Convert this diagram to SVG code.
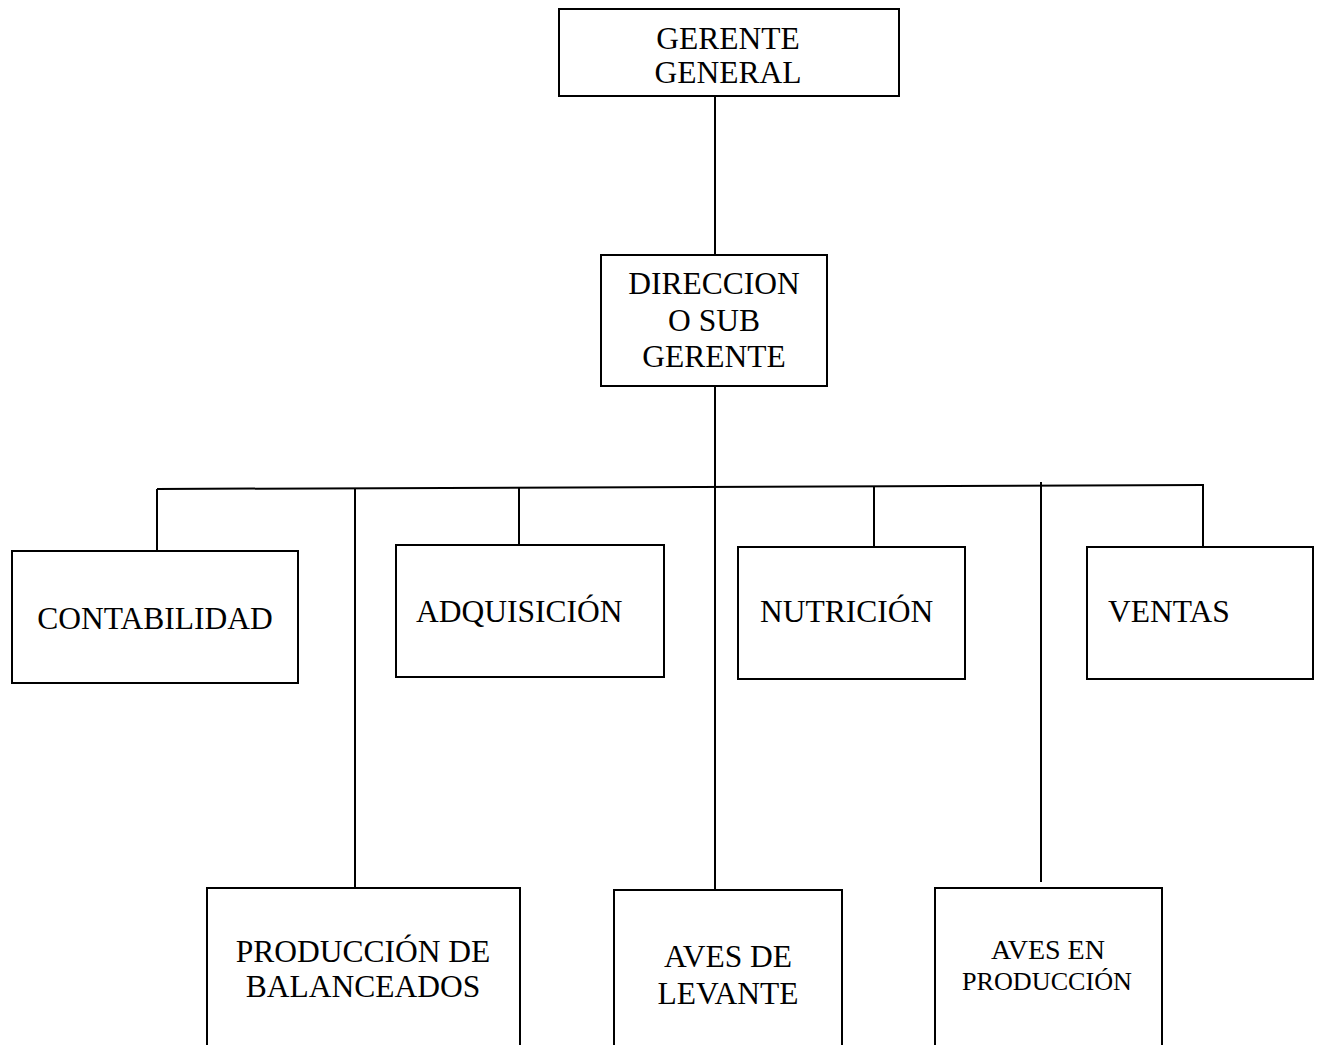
<svg xmlns="http://www.w3.org/2000/svg" width="1319" height="1045" viewBox="0 0 1319 1045">
<style>
.box{fill:#fff;stroke:#000;stroke-width:2}
.ln{stroke:#000;stroke-width:2;fill:none}
text{font-family:"Liberation Serif","Times New Roman",serif;font-size:31.5px;fill:#000}
.c{text-anchor:middle}
</style>
<rect width="1319" height="1045" fill="#fff"/>
<g id="connectors">
<line class="ln" x1="715" y1="96" x2="715" y2="255"/>
<line class="ln" x1="715" y1="386" x2="715" y2="889"/>
<line class="ln" x1="157" y1="489" x2="1203" y2="485"/>
<line class="ln" x1="157" y1="489" x2="157" y2="551"/>
<line class="ln" x1="355" y1="489" x2="355" y2="888"/>
<line class="ln" x1="519" y1="488" x2="519" y2="549"/>
<line class="ln" x1="874" y1="487" x2="874" y2="549"/>
<line class="ln" x1="1041" y1="482" x2="1041" y2="882"/>
<line class="ln" x1="1203" y1="484" x2="1203" y2="548"/>
</g>
<g id="gerente">
<rect class="box" x="559" y="9" width="340" height="87"/>
<text class="c" x="728" y="49">GERENTE</text>
<text class="c" x="728" y="83">GENERAL</text>
</g>
<g id="direccion">
<rect class="box" x="601" y="255" width="226" height="131"/>
<text class="c" x="714" y="294">DIRECCION</text>
<text class="c" x="714" y="331">O SUB</text>
<text class="c" x="714" y="367">GERENTE</text>
</g>
<g id="contabilidad">
<rect class="box" x="12" y="551" width="286" height="132"/>
<text class="c" x="155" y="629">CONTABILIDAD</text>
</g>
<g id="adquisicion">
<rect class="box" x="396" y="545" width="268" height="132"/>
<text x="416" y="622">ADQUISICIÓN</text>
</g>
<g id="nutricion">
<rect class="box" x="738" y="547" width="227" height="132"/>
<text x="760" y="622">NUTRICIÓN</text>
</g>
<g id="ventas">
<rect class="box" x="1087" y="547" width="226" height="132"/>
<text x="1108" y="622">VENTAS</text>
</g>
<g id="produccion-balanceados">
<rect class="box" x="207" y="888" width="313" height="170"/>
<text class="c" x="363" y="962">PRODUCCIÓN DE</text>
<text class="c" x="363" y="997">BALANCEADOS</text>
</g>
<g id="aves-levante">
<rect class="box" x="614" y="890" width="228" height="170"/>
<text class="c" x="728" y="967">AVES DE</text>
<text class="c" x="728" y="1004">LEVANTE</text>
</g>
<g id="aves-produccion">
<rect class="box" x="935" y="888" width="227" height="170"/>
<text class="c" x="1048" y="959" style="font-size:28px">AVES EN</text>
<text class="c" x="1047" y="990" style="font-size:25px" textLength="170" lengthAdjust="spacingAndGlyphs">PRODUCCIÓN</text>
</g>
</svg>
